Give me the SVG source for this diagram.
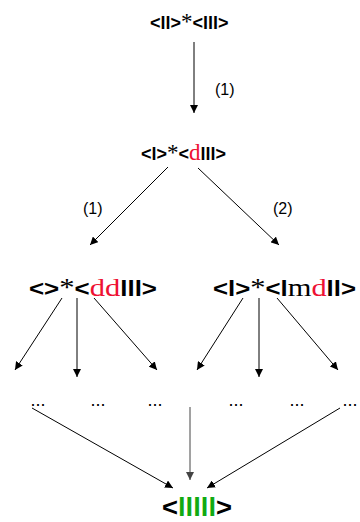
<svg xmlns="http://www.w3.org/2000/svg" width="360" height="522" viewBox="0 0 360 522">
<style>
.s{font-family:"Liberation Sans",Arial,sans-serif;font-weight:bold;fill:#000}
.r{font-family:"Liberation Serif","Times New Roman",serif;font-weight:normal;fill:#000}
.red{fill:#ee1133}
.g{fill:#11aa11}
.lbl{font-family:"Liberation Sans",Arial,sans-serif;font-size:16px;fill:#000}
.dots{font-family:"Liberation Sans",Arial,sans-serif;font-size:18px;fill:#000;text-anchor:middle}
.c line{stroke:#000;stroke-width:1;marker-end:url(#ah)}
</style>
<defs>
<marker id="ah" viewBox="0 0 10 10" refX="10" refY="5" markerWidth="8" markerHeight="8" markerUnits="userSpaceOnUse" orient="auto">
<path d="M0,0 L10,5 L0,10 z" fill="#000"/>
</marker>
<marker id="ahg" viewBox="0 0 10 10" refX="10" refY="5" markerWidth="8" markerHeight="8" markerUnits="userSpaceOnUse" orient="auto">
<path d="M0,0 L10,5 L0,10 z" fill="#444"/>
</marker>
</defs>
<g id="n0"><text x="150" y="29"><tspan class="s" font-size="18">&lt;ll&gt;</tspan><tspan class="r" font-size="23">*</tspan><tspan class="s" font-size="18">&lt;lll&gt;</tspan></text></g>
<g id="n1"><text x="141" y="160"><tspan class="s" font-size="18">&lt;l&gt;</tspan><tspan class="r" font-size="23">*</tspan><tspan class="s" font-size="18">&lt;</tspan><tspan class="r red" font-size="23">d</tspan><tspan class="s" font-size="18">lll&gt;</tspan></text></g>
<g id="n2"><text x="29" y="296" textLength="128" lengthAdjust="spacingAndGlyphs"><tspan class="s" font-size="22">&lt;&gt;</tspan><tspan class="r" font-size="26">*</tspan><tspan class="s" font-size="22">&lt;</tspan><tspan class="r red" font-size="26">dd</tspan><tspan class="s" font-size="22">lll&gt;</tspan></text></g>
<g id="n3"><text x="213" y="296" textLength="143" lengthAdjust="spacingAndGlyphs"><tspan class="s" font-size="22">&lt;l&gt;</tspan><tspan class="r" font-size="26">*</tspan><tspan class="s" font-size="22">&lt;l</tspan><tspan class="r" font-size="26">m</tspan><tspan class="r red" font-size="26">d</tspan><tspan class="s" font-size="22">ll&gt;</tspan></text></g>
<g id="d1"><text class="dots" x="38" y="406">...</text></g>
<g id="d2"><text class="dots" x="98" y="406">...</text></g>
<g id="d3"><text class="dots" x="155" y="406">...</text></g>
<g id="d4"><text class="dots" x="236" y="406">...</text></g>
<g id="d5"><text class="dots" x="297" y="406">...</text></g>
<g id="d6"><text class="dots" x="350" y="406">...</text></g>
<g id="n4"><text x="162" y="516" textLength="70" lengthAdjust="spacingAndGlyphs"><tspan class="s" font-size="25">&lt;</tspan><tspan class="s g" font-size="25">lllll</tspan><tspan class="s" font-size="25">&gt;</tspan></text></g>
<g class="c">
<line x1="194" y1="42" x2="194" y2="113"/>
<line x1="168" y1="167" x2="90" y2="245"/>
<line x1="198" y1="168" x2="279" y2="245"/>
<line x1="62" y1="298" x2="15" y2="370"/>
<line x1="77" y1="298" x2="77" y2="377"/>
<line x1="94" y1="298" x2="157" y2="370"/>
<line x1="243" y1="298" x2="197" y2="370"/>
<line x1="259" y1="298" x2="259" y2="377"/>
<line x1="277" y1="298" x2="338" y2="370"/>
<line x1="32" y1="408" x2="173" y2="488"/>
<line x1="190" y1="407" x2="190" y2="480" style="stroke:#444;marker-end:url(#ahg)"/>
<line x1="340" y1="408" x2="207" y2="488"/>
</g>
<g id="labels">
<text class="lbl" x="215" y="95">(1)</text>
<text class="lbl" x="83" y="214">(1)</text>
<text class="lbl" x="273" y="214">(2)</text>
</g>
</svg>
